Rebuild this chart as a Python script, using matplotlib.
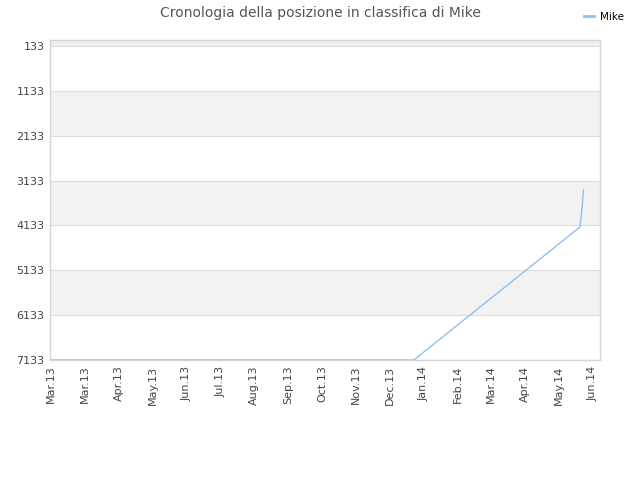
import numpy as np
import pandas as pd
import matplotlib
matplotlib.use('Agg')
import matplotlib.pyplot as plt
import matplotlib.dates as mdates

# rank history of Mike (lower = better)
dates = ['2013-03-02', '2014-01-04', '2014-05-25', '2014-05-26', '2014-05-27', '2014-05-28']
ranks = [7133, 7133, 4168, 3945, 3677, 3343]
yticks = [133, 1133, 2133, 3133, 4133, 5133, 6133, 7133]
x_start = '2013-03-02'
x_end = '2014-06-11'
n_xticks = 17

dates = pd.to_datetime(dates)

fig = plt.figure(figsize=(6.4, 4.8), dpi=100)
ax = fig.add_axes([50/640, 1 - 360/480, 550/640, 320/480])

# alternating bands
ax.axhspan(0, 133, color='#eeeeee', zorder=0, lw=0)
for i in range(len(yticks) - 1):
    if i % 2 == 1:
        ax.axhspan(yticks[i], yticks[i + 1], color='#f2f2f2', zorder=0, lw=0)
for y in yticks:
    ax.axhline(y, color='#dddddd', lw=0.8, zorder=1)

ax.plot(dates, ranks, color='#90c0ee', lw=1.0, label='Mike', zorder=3)

ax.set_ylim(7133, 0)
ax.set_yticks(yticks)
ax.set_yticklabels([str(y) for y in yticks])

x0 = mdates.date2num(pd.Timestamp(x_start))
x1 = mdates.date2num(pd.Timestamp(x_end))
ax.set_xlim(x0 - 0.8, x1)
ticks = np.linspace(x0, x0 + 16 * 28.75, n_xticks)
ax.set_xticks(ticks)
ax.xaxis.set_major_formatter(mdates.DateFormatter('%b.%y'))
plt.setp(ax.get_xticklabels(), rotation=90)

ax.tick_params(axis='both', length=0, labelsize=8, colors='#444444', pad=4)
for s in ax.spines.values():
    s.set_color('#d5d5d5')
    s.set_linewidth(1)

fig.suptitle('Cronologia della posizione in classifica di Mike', fontsize=10,
             color='#555555', x=0.5, y=0.988)
leg = fig.legend(loc='upper right', bbox_to_anchor=(0.99, 0.995), frameon=False,
                 fontsize=7.5, handlelength=1.0, handletextpad=0.6)
for h in leg.get_lines():
    h.set_linewidth(2)

fig.savefig('out.png', dpi=100)
